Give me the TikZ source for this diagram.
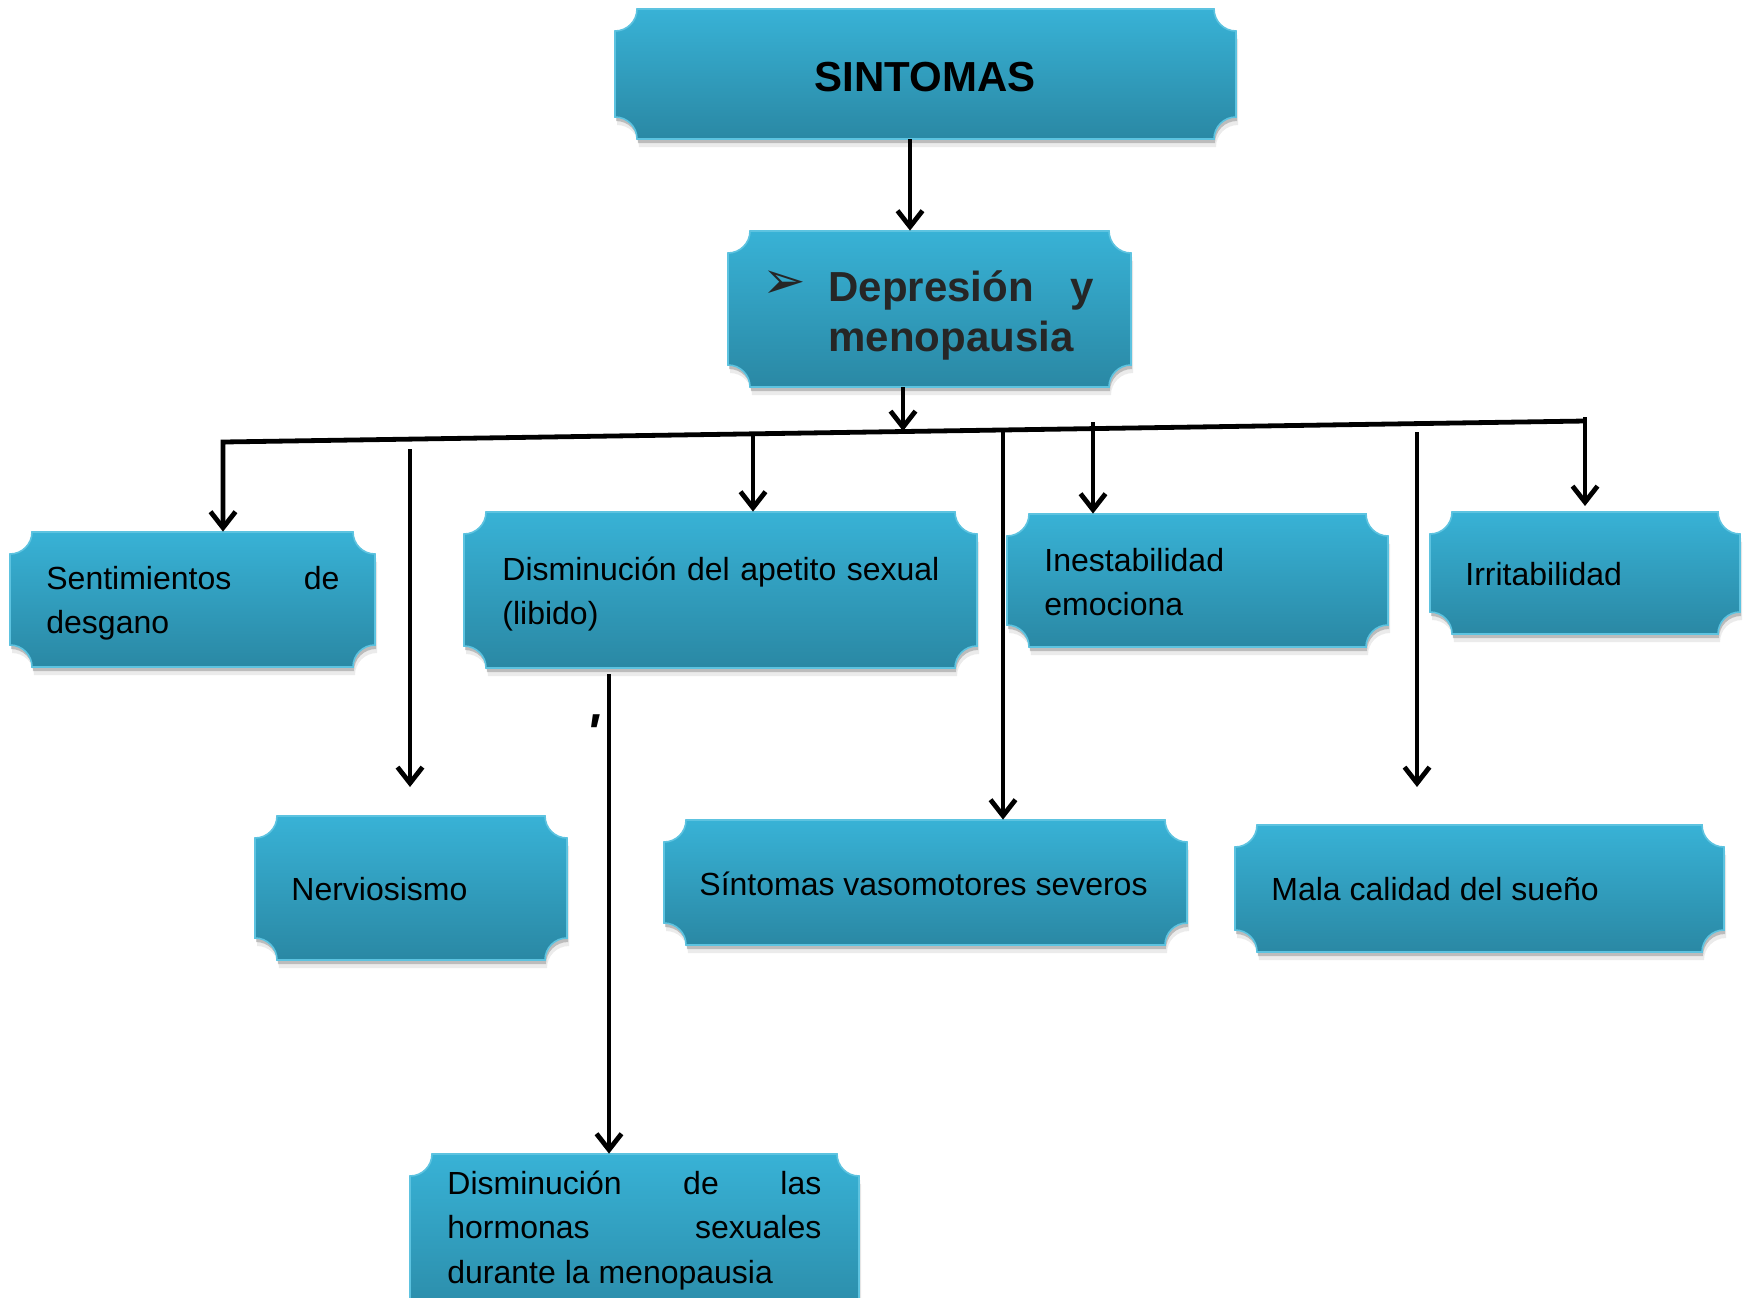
\documentclass[tikz,border=0pt]{standalone}
\usepackage{fontspec}
\setmainfont{Liberation Sans}
\newfontfamily\dejavu{DejaVu Sans}
\newfontfamily\apfont[Ligatures=TeXOff]{Liberation Sans}
\usetikzlibrary{arrows.meta,fit}
\definecolor{plTop}{HTML}{38B2D6}
\definecolor{plBot}{HTML}{2A88A4}
\definecolor{plEdge}{HTML}{5DC3E0}
\definecolor{darktext}{HTML}{262626}
\hyphenpenalty=10000
\exhyphenpenalty=10000

\newcommand\pr{22}
\newcommand\pk{12.15}
% #1 options, #2 x1, #3 y1, #4 x2, #5 y2  (pixel units, y downwards)
\newcommand\plaqueshape[5]{%
  \path[#1] ({#2+\pr},{#3}) -- ({#4-\pr},{#3})
    .. controls ({#4-\pr},{#3+\pk}) and ({#4-\pk},{#3+\pr}) .. ({#4},{#3+\pr})
    -- ({#4},{#5-\pr})
    .. controls ({#4-\pk},{#5-\pr}) and ({#4-\pr},{#5-\pk}) .. ({#4-\pr},{#5})
    -- ({#2+\pr},{#5})
    .. controls ({#2+\pr},{#5-\pk}) and ({#2+\pk},{#5-\pr}) .. ({#2},{#5-\pr})
    -- ({#2},{#3+\pr})
    .. controls ({#2+\pk},{#3+\pr}) and ({#2+\pr},{#3+\pk}) .. ({#2+\pr},{#3}) -- cycle;}
% #1 name, #2 x1, #3 y1, #4 x2, #5 y2
\newcommand\plaque[5]{%
  \plaqueshape{fill=black,opacity=0.08}{#2+2}{#3+8}{#4+2}{#5+8}
  \plaqueshape{fill=black,opacity=0.20}{#2+1}{#3+4}{#4+1}{#5+4}
  \plaqueshape{top color=plTop,bottom color=plBot,draw=plEdge,line width=0.8pt}{#2}{#3}{#4}{#5}
  \node[fit={(#2,#3) (#4,#5)},inner sep=0pt] (#1) {};}

\tikzset{
  body/.style={anchor=base west, inner sep=0pt, font=\fontsize{16}{22.25}\selectfont, align=left},
  bodyj/.style={body, align=justify},
  conn/.style={line width=2.4pt, black, line join=miter},
  arr/.style={conn, -{Straight Barb[length=8pt,width=12.5pt]}},
}

\begin{document}
\begin{tikzpicture}[x=0.5pt,y=-0.5pt]
\useasboundingbox (0,0) rectangle (1743,1297);
\fill[white] (0,0) rectangle (1743,1297);
\clip (0,0) rectangle (1743,1297);

% boxes
\plaque{sint}{615}{9}{1236}{139}
\plaque{dep}{728}{231}{1131}{387}
\plaque{sent}{10}{532}{375}{667}
\plaque{apet}{464}{512}{977}{668}
\plaque{ines}{1007}{514}{1388}{647}
\plaque{irri}{1430}{512}{1740}{634}
\plaque{nerv}{255}{816}{567}{960}
\plaque{vaso}{664}{820}{1187}{945}
\plaque{mala}{1235}{825}{1724}{952}
\plaque{horm}{410}{1154}{859}{1330}

% texts
\node[anchor=base, inner sep=0pt, font=\fontsize{21}{25}\selectfont\bfseries] (tsint) at (925,91) {SINTOMAS};
\node[anchor=base west, inner sep=0pt, text width=132.5pt, align=justify,
      font=\fontsize{21}{25}\selectfont\bfseries, text=darktext] (tdep) at (828,301) {Depresión y\linebreak menopausia};
\node[anchor=center, inner sep=0pt, font=\dejavu\fontsize{26}{26}\selectfont, text=darktext] (bul) at (784,285) {➢};
\node[bodyj, text width=146.5pt] (tsent) at (46,589) {Sentimientos de\linebreak desgano};
\node[bodyj, text width=218.5pt] (tapet) at (502,580) {Disminución del apetito sexual\linebreak (libido)};
\node[body, text width=160pt] (tines) at (1044,571) {Inestabilidad\\emociona};
\node[body] (tirri) at (1465,585) {Irritabilidad};
\node[body] (tnerv) at (291,900) {Nerviosismo};
\node[body] (tvaso) at (699,895) {Síntomas vasomotores severos};
\node[body] (tmala) at (1271,900) {Mala calidad del sueño};
\node[bodyj, text width=187pt] (thorm) at (447,1194) {Disminución de las\linebreak hormonas sexuales\linebreak durante la menopausia};
\node[anchor=north, inner sep=0pt, font=\apfont\fontsize{26}{26}\selectfont\bfseries\itshape] (apos) at (593,714) {\char"27};

% connector coordinates
\coordinate (a0) at (910,0);
\coordinate (a1) at (903,0);
\coordinate (j1) at (903,431);
\coordinate (busL) at (223,442);
\coordinate (busR) at (1585,421);
\coordinate (n1) at (410,449);
\coordinate (n2) at (410,787);
\coordinate (p1) at (753,434);
\coordinate (v1) at (1003,430);
\coordinate (i1) at (1093,422);
\coordinate (m1) at (1417,432);
\coordinate (m2) at (1417,787);
\coordinate (r1) at (1585,417);
\coordinate (r2) at (1585,506);
\coordinate (h1) at (609,674);

% connectors
\draw[arr] (sint.south -| a0) -- (dep.north -| a0);
\draw[arr] (dep.south -| a1) -- (j1);
\draw[arr] (busR) -- (busL) -- (busL |- sent.north);
\draw[arr] (n1) -- (n2);
\draw[arr] (p1) -- (p1 |- apet.north);
\draw[arr] (v1) -- (v1 |- vaso.north);
\draw[arr] (i1) -- (i1 |- ines.north);
\draw[arr] (m1) -- (m2);
\draw[arr] (r1) -- (r2);
\draw[arr] (h1) -- (h1 |- horm.north);
\end{tikzpicture}
\end{document}
